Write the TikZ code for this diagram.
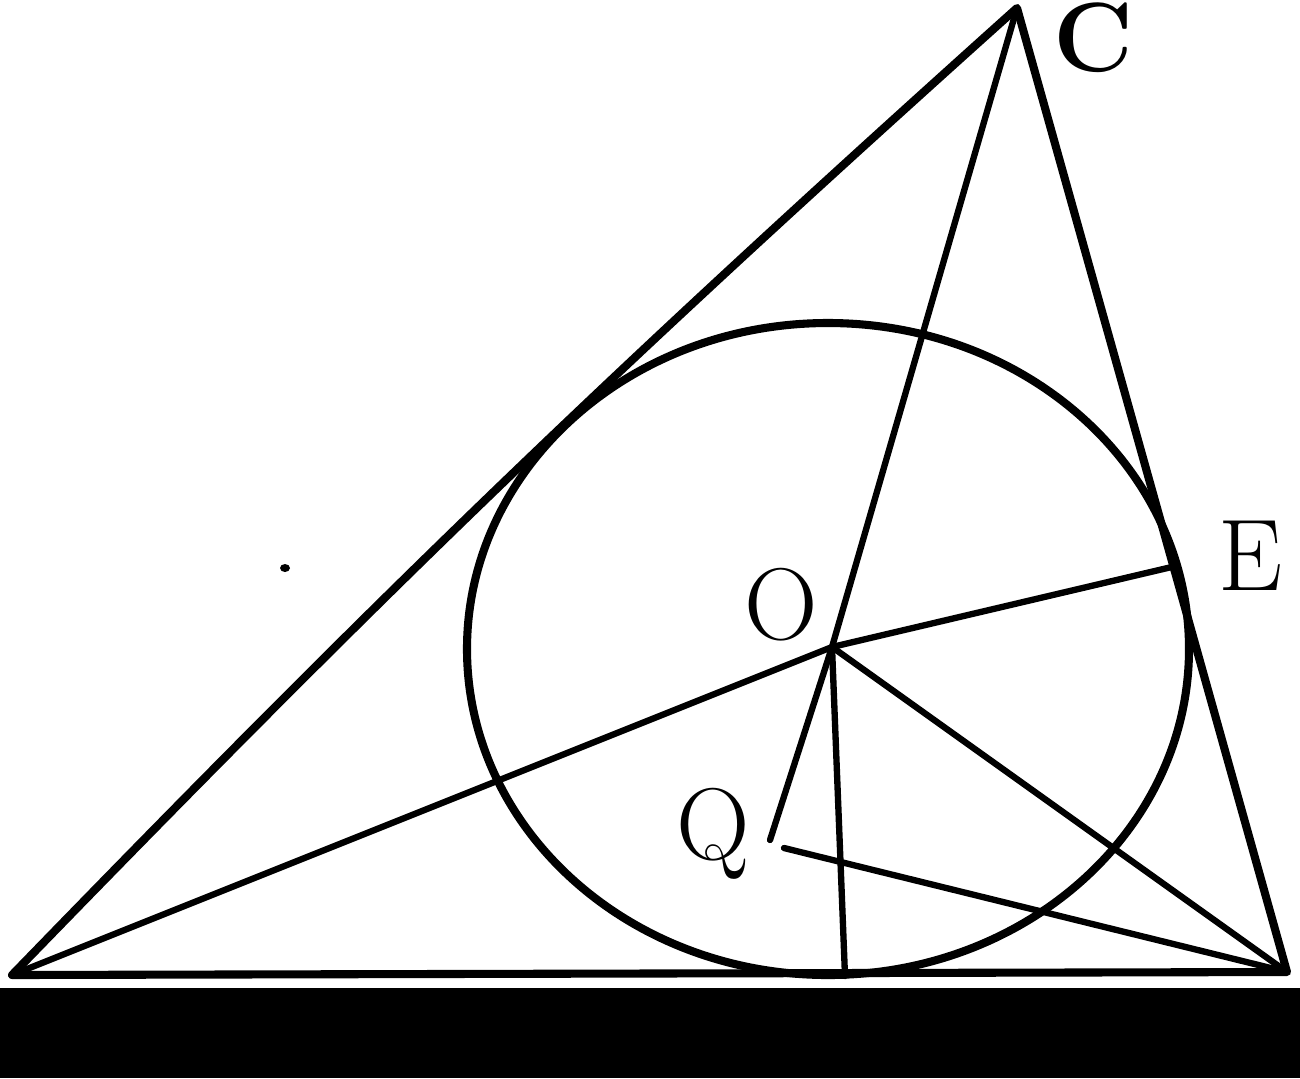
\documentclass[tikz,border=0pt]{standalone}
\usepackage{tikz}
\usetikzlibrary{positioning}
\tikzset{
    side/.style={line width=2.3pt, line cap=round, line join=round},
    chord/.style={line width=1.8pt, line cap=round},
    letter/.style={inner sep=0pt, font=\fontsize{29}{29}\selectfont}
}

\begin{document}
\begin{tikzpicture}[x=0.01cm, y=-0.01cm]
    \useasboundingbox (0, 0) rectangle (1300, 1078);
    \fill[black] (0, 988) rectangle (1300, 1078);

    \coordinate (A) at (12, 975);
    \coordinate (B) at (1287, 972);
    \coordinate (C) at (1017, 8);
    \coordinate (O) at (832, 647);
    \coordinate (E) at (1176, 566);
    \coordinate (Q) at (770, 840);
    \coordinate (Qb) at (784, 848);
    \coordinate (F) at (845, 976);

    \draw[side] (C) to[bend right=2] (A) -- (B) -- cycle;
    \draw[side] (828, 649) ellipse[x radius=361, y radius=326];

    \draw[chord] (A) -- (O) -- (E);
    \draw[chord] (C) -- (O) -- (Q);
    \draw[chord] (O) -- (F);
    \draw[chord] (O) -- (B);
    \draw[chord] (Qb) -- (B);

    \fill (285, 568) ellipse[x radius=5, y radius=4];

    \node[letter, font=\fontsize{28}{28}\selectfont\bfseries] (labC) at (1094, 38) {C};
    \node[letter] (labE) at (1251, 556) {E};
    \node[letter] (labO) at (781, 605) {O};
    \node[letter] (labQ) at (713, 834) {Q};
\end{tikzpicture}
\end{document}
